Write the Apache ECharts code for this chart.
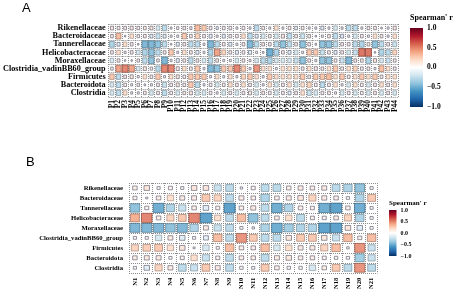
<!DOCTYPE html>
<html><head><meta charset="utf-8">
<script src="https://cdn.jsdelivr.net/npm/echarts@6/dist/echarts.min.js"></script>
<style>html,body{margin:0;padding:0;background:#fff}#c{width:454px;height:292px}</style>
</head><body><div id="c"></div>
<script>
const rowLabels = ['Rikenellaceae','Bacteroidaceae','Tannerellaceae','Helicobacteraceae','Moraxellaceae','Clostridia_vadinBB60_group','Firmicutes','Bacteroidota','Clostridia'];
const colsA = ['P1','P2','P3','P4','P5','P6','P7','P8','P9','P10','P11','P12','P13','P14','P15','P16','P17','P18','P19','P20','P21','P22','P23','P24','P25','P26','P27','P28','P29','P30','P31','P32','P33','P34','P35','P36','P37','P38','P39','P40','P41','P42','P43','P44'];
const colsB = ['N1','N2','N3','N4','N5','N6','N7','N8','N9','N10','N11','N12','N13','N14','N15','N16','N17','N18','N19','N20','N21'];
const cbTicks = [-1, -0.5, 0, 0.5, 1];

const A_Rikenellaceae = [0.15,0.12,0.12,0.15,0.12,0.12,0.15,-0.2,-0.3,0.05,0.08,0.12,0.08,0.35,0.3,0.12,-0.08,0.12,0.12,0.06,0.12,0.06,-0.3,0.12,0.06,0.2,0.06,0.12,-0.12,0.12,0.06,0.06,-0.15,0.06,-0.2,0.06,-0.3,-0.3,0.06,0.12,0.12,0.04,0.06,0.15];
const A_Bacteroidaceae = [0.12,0.35,0.03,0.2,0.1,0.12,-0.15,-0.25,-0.15,0.06,0.06,0.3,0.12,0.25,0.12,-0.15,0.06,-0.15,0.12,0.12,0.2,-0.3,-0.15,-0.2,0.12,-0.2,0.15,-0.3,0.12,-0.25,0.12,0.03,0.06,0.12,-0.3,-0.15,0.06,-0.2,0.12,0.06,0.2,0.12,0.06,0.2];
const A_Tannerellaceae = [-0.35,-0.15,0.2,0.12,0.03,-0.5,-0.5,-0.45,-0.3,0.03,-0.15,0.12,-0.3,-0.3,0.06,-0.5,-0.3,0.12,-0.15,0.06,0.12,-0.5,-0.3,0.12,0.12,-0.3,-0.45,-0.3,0.12,-0.45,0.12,0.04,-0.45,-0.45,-0.3,0.12,0.12,-0.3,-0.35,0.12,-0.45,-0.3,0.12,-0.25];
const A_Helicobacteraceae = [0.12,0.2,0.06,0.12,-0.2,-0.35,-0.45,-0.3,0.12,0.3,0.06,0.2,0.12,-0.15,0.06,-0.35,0.45,0.25,0.12,-0.15,0.12,-0.15,0.06,0.04,-0.55,-0.35,0.12,-0.15,-0.2,0.06,0.3,0.3,-0.25,0.12,-0.15,0.12,-0.2,-0.25,0.6,0.6,0.03,-0.35,-0.3,0.25];
const A_Moraxellaceae = [-0.2,0.12,0.03,0.03,0.1,-0.3,-0.45,0.1,-0.5,0.06,-0.15,0.12,-0.3,0.12,-0.2,-0.3,0.12,0.06,0.06,-0.2,0.12,0.06,-0.2,-0.3,-0.35,-0.2,-0.2,-0.2,-0.25,-0.45,0.12,0.06,-0.45,-0.45,0.12,-0.25,-0.5,0.12,0.12,-0.35,0.15,-0.2,-0.25,0.12];
const A_Clostridia_vadinBB60_group = [0.1,0.45,0.55,0.45,-0.2,0.15,0.1,-0.3,0.55,0.55,0.15,0.2,0.12,0.3,0.06,-0.5,-0.45,0.3,0.3,0.55,0.3,0.06,0.5,0.2,0.2,0.06,0.2,0.2,0.2,0.12,0.2,0.15,0.12,0.2,0.3,0.12,0.2,0.25,0.12,0.12,0.06,0.35,0.2,0.12];
const A_Firmicutes = [0.3,-0.3,0.12,0.15,0.06,0.2,0.12,0.3,0.06,0.2,0.15,0.12,0.3,0.3,0.3,0.06,0.2,0.06,0.2,0.06,0.25,0.3,0.2,0.06,0.3,0.2,0.2,0.2,0.2,0.3,0.12,0.3,0.3,0.35,0.2,0.3,0.12,0.2,0.3,0.2,0.3,0.12,0.2,0.2];
const A_Bacteroidota = [-0.2,-0.3,0.12,0.06,0.1,0.04,0.06,0.12,-0.25,0.12,0.15,0.12,0.3,-0.3,0.06,0.12,-0.2,0.12,0.2,0.12,0.2,0.12,-0.2,0.06,0.2,-0.2,0.12,0.2,-0.2,0.2,0.25,0.12,-0.3,0.12,0.2,0.06,-0.2,0.2,0.12,-0.2,0.12,0.2,0.12,0.2];
const A_Clostridia = [-0.2,-0.3,0.2,0.06,0.06,0.12,-0.2,0.12,-0.3,0.12,-0.2,0.12,0.15,-0.2,-0.2,0.12,0.06,-0.2,0.12,-0.2,0.12,0.15,-0.2,0.12,0.12,-0.2,0.12,-0.15,0.12,0.2,-0.25,-0.2,0.12,0.12,0.06,-0.2,0.12,-0.2,0.12,-0.2,0.12,-0.2,0.12,-0.2];

const B_Rikenellaceae = [0.1,0.15,0.05,0.08,0.05,0.15,0.15,-0.25,-0.3,0.03,0.08,-0.3,-0.3,0.1,0.12,0.1,0.12,-0.3,-0.35,-0.45,0.05];
const B_Bacteroidaceae = [0.08,0.02,0.1,0.2,0.12,0.12,0.3,0.25,-0.3,0.12,0.1,-0.35,0.1,0.12,0.15,0.25,0.12,0.1,0.05,-0.35,0.3];
const B_Tannerellaceae = [-0.45,0.08,-0.55,-0.35,-0.25,0.1,-0.15,0.08,-0.6,0.1,0.12,-0.3,-0.55,-0.35,0.1,0.08,-0.55,-0.6,0.1,-0.55,0.05];
const B_Helicobacteraceae = [0.4,0.55,0.1,0.25,0.3,0.55,-0.6,0.2,-0.3,0.35,-0.45,-0.3,0.1,0.2,-0.3,0.08,0.08,0.1,0.25,-0.35,0.05];
const B_Moraxellaceae = [-0.5,-0.5,-0.5,-0.45,-0.5,-0.35,0.12,-0.25,-0.3,0.05,0.03,-0.35,-0.55,-0.4,-0.35,-0.35,-0.6,-0.6,0.15,-0.15,0.05];
const B_Clostridia_vadinBB60_group = [0.05,0.05,-0.2,0.12,-0.15,0.05,-0.12,0.35,-0.3,0.5,0.3,-0.3,-0.3,0.15,0.3,0.3,0.15,-0.25,0.35,0.08,0.35];
const B_Firmicutes = [0.25,0.28,0.3,0.2,0.15,0.02,-0.2,0.05,0.35,0.1,0.1,0.35,-0.2,0.2,0.12,0.12,0.25,0.35,0.03,0.5,-0.25];
const B_Bacteroidota = [0.1,0.12,0.12,0.05,0.08,0.2,-0.25,0.08,-0.3,0.1,0.1,-0.3,0.12,0.15,0.1,0.1,0.08,0.06,0.05,-0.4,-0.25];
const B_Clostridia = [0.05,-0.15,0.25,0.12,-0.3,-0.25,0.3,0.12,-0.3,0.06,0.05,0.3,0.1,0.06,0.06,-0.2,0.1,0.3,-0.3,0.5,-0.3];

const matA = [A_Rikenellaceae,A_Bacteroidaceae,A_Tannerellaceae,A_Helicobacteraceae,A_Moraxellaceae,A_Clostridia_vadinBB60_group,A_Firmicutes,A_Bacteroidota,A_Clostridia];
const matB = [B_Rikenellaceae,B_Bacteroidaceae,B_Tannerellaceae,B_Helicobacteraceae,B_Moraxellaceae,B_Clostridia_vadinBB60_group,B_Firmicutes,B_Bacteroidota,B_Clostridia];

const PAL = ['#67001F','#B2182B','#D6604D','#F4A582','#FDDBC7','#FFFFFF','#D1E5F0','#92C5DE','#4393C3','#2166AC','#053061'];
function hex2rgb(h){return [parseInt(h.slice(1,3),16),parseInt(h.slice(3,5),16),parseInt(h.slice(5,7),16)];}
function colorOf(r, dark){
  const p = (1 - r) / 2 * 10; const i = Math.max(0, Math.min(9, Math.floor(p))); const f = p - i;
  const a = hex2rgb(PAL[i]), b = hex2rgb(PAL[i+1]);
  let c = a.map((v,k)=>v + (b[k]-v)*f);
  if (dark) c = c.map(v=>v*(1-dark));
  return 'rgb(' + c.map(v=>Math.round(v)).join(',') + ')';
}

const G = {
  A:{left:107, top:24, width:291, height:73},
  B:{left:129, top:183, width:248.5, height:93.5},
  CA:{left:410, top:28, width:13, height:79},
  CB:{left:389, top:210, width:7.5, height:46}
};

function buildData(mat){
  const out = [];
  mat.forEach((row, ri) => row.forEach((r, ci) => {
    out.push({value:[ci, ri, r], itemStyle:{color:colorOf(r, 0), borderColor: Math.abs(r) < 0.18 ? 'rgba(90,90,110,0.95)' : colorOf(r, 0.35)}});
  }));
  return out;
}
function sizeFn(g, ncol, nrow){
  const cw = g.width / ncol, ch = g.height / nrow;
  return function(v){ const k = Math.min(0.95, Math.sqrt(Math.abs(v[2])) * 1.2); return [cw*k, ch*k]; };
}
const serif = 'Liberation Serif';
function catX(idx, data, fs, margin){
  return {type:'category', gridIndex:idx, data:data, boundaryGap:true, position:'bottom',
    axisLine:{show:false}, axisTick:{show:false},
    axisLabel:{interval:0, rotate:90, fontSize:fs, fontWeight:'bold', fontFamily:serif, color:'#000', margin:margin},
    splitLine:{show:true, lineStyle:{type:'dotted', color:'#8c8c8c', width:1}}};
}
function catY(idx, data, fs, margin){
  return {type:'category', gridIndex:idx, data:data, inverse:true, boundaryGap:true,
    axisLine:{show:false}, axisTick:{show:false},
    axisLabel:{interval:0, fontSize:fs, fontWeight:'bold', fontFamily:serif, color:'#000', margin:margin},
    splitLine:{show:true, lineStyle:{type:'dotted', color:'#8c8c8c', width:1}}};
}
function cbX(idx){ return {type:'category', gridIndex:idx, data:['cb'], show:false}; }
function cbY(idx, fs){
  return {type:'value', gridIndex:idx, min:-1, max:1, interval:0.5, position:'right',
    axisLine:{show:false}, axisTick:{show:false}, splitLine:{show:false},
    axisLabel:{fontSize:fs, fontWeight:'bold', fontFamily:serif, color:'#000', margin:4, showMinLabel:true, showMaxLabel:true,
      formatter:v => (v < 0 ? '\u2212' : '') + Math.abs(v).toFixed(1)}};
}
const gradStops = PAL.map((c,i)=>({offset:i/(PAL.length-1), color:c}));
function cbSeries(xi){
  return {type:'custom', xAxisIndex:xi, yAxisIndex:xi, data:[[0, cbTicks[0], cbTicks[cbTicks.length-1]]],
    renderItem:function(params, api){
      const p1 = api.coord([api.value(0), api.value(2)]);
      const p0 = api.coord([api.value(0), api.value(1)]);
      const w = api.size([1,0])[0];
      return {type:'rect', shape:{x:p1[0]-w/2, y:p1[1], width:w, height:p0[1]-p1[1]},
        style:{fill:new echarts.graphic.LinearGradient(0,0,0,1,gradStops)}};
    }};
}

const chart = echarts.init(document.getElementById('c'), null, {renderer:'canvas'});
chart.setOption({
  animation:false,
  backgroundColor:'#fff',
  title:[
    {text:'A', left:22, top:2, padding:0, textStyle:{fontSize:13, fontWeight:'normal', fontFamily:'Liberation Sans', color:'#000'}},
    {text:'B', left:26, top:156, padding:0, textStyle:{fontSize:13, fontWeight:'normal', fontFamily:'Liberation Sans', color:'#000'}},
    {text:"Spearman' r", left:410, top:14, padding:0, textStyle:{fontSize:8, fontWeight:'bold', fontFamily:serif, color:'#000'}},
    {text:"Spearman' r", left:389, top:200, padding:0, textStyle:{fontSize:7, fontWeight:'bold', fontFamily:serif, color:'#000'}}
  ],
  grid:[G.A, G.B, G.CA, G.CB].map(g=>Object.assign({containLabel:false}, g)),
  xAxis:[catX(0, colsA, 7.5, 3), catX(1, colsB, 6.5, 5), cbX(2), cbX(3)],
  yAxis:[catY(0, rowLabels, 8.2, 3), catY(1, rowLabels, 6.7, 6), cbY(2, 7.5), cbY(3, 6)],
  series:[
    {type:'scatter', xAxisIndex:0, yAxisIndex:0, symbol:'rect', symbolSize:sizeFn(G.A, colsA.length, rowLabels.length),
      itemStyle:{borderWidth:0.8, opacity:0.85}, data:buildData(matA)},
    {type:'scatter', xAxisIndex:1, yAxisIndex:1, symbol:'rect', symbolSize:sizeFn(G.B, colsB.length, rowLabels.length),
      itemStyle:{borderWidth:0.8, opacity:0.85}, data:buildData(matB)},
    cbSeries(2), cbSeries(3)
  ]
});
</script></body></html>
